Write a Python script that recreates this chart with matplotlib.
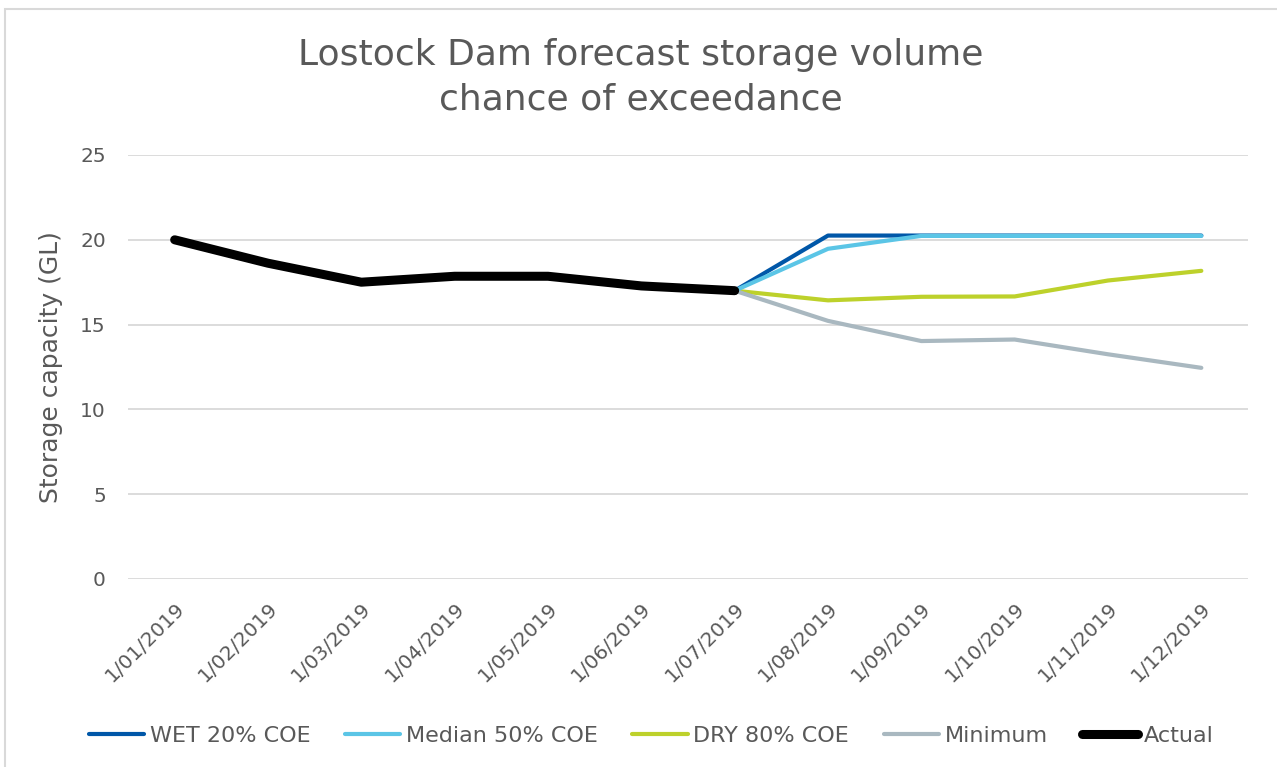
import matplotlib
matplotlib.use("Agg")
import matplotlib.pyplot as plt
from matplotlib.patches import Rectangle

months = ["1/01/2019", "1/02/2019", "1/03/2019", "1/04/2019", "1/05/2019", "1/06/2019",
          "1/07/2019", "1/08/2019", "1/09/2019", "1/10/2019", "1/11/2019", "1/12/2019"]

# Forecasts start at 1/07/2019 (index 6)
wet = [17.0, 20.25, 20.25, 20.25, 20.25, 20.25]
median = [17.0, 19.47, 20.23, 20.23, 20.23, 20.23]
dry = [17.0, 16.43, 16.64, 16.66, 17.6, 18.17]
minimum = [17.0, 15.22, 14.03, 14.12, 13.25, 12.45]
actual = [20.0, 18.62, 17.5, 17.85, 17.85, 17.28, 17.0]

yticks = [0, 5, 10, 15, 20, 25]

TXT = "#595959"
plt.rcParams['font.family'] = ['DejaVu Sans']

W, H = 1277, 767
fig = plt.figure(figsize=(W / 100, H / 100), dpi=100)
ax = fig.add_axes([128 / W, 1 - 579 / H, (1248 - 128) / W, (579 - 155) / H])

x_all = list(range(len(months)))
x_fc = x_all[6:]
x_act = x_all[:7]

ax.plot(x_fc, wet, color="#0057A8", lw=3.0, solid_capstyle="round", label="WET 20% COE", zorder=3)
ax.plot(x_fc, median, color="#5BC5E6", lw=3.0, solid_capstyle="round", label="Median 50% COE", zorder=4)
ax.plot(x_fc, dry, color="#BDD12B", lw=3.0, solid_capstyle="round", label="DRY 80% COE", zorder=3)
ax.plot(x_fc, minimum, color="#A9B8C0", lw=3.0, solid_capstyle="round", label="Minimum", zorder=3)
ax.plot(x_act, actual, color="black", lw=6.5, solid_capstyle="round", label="Actual", zorder=5)

ax.set_xlim(-0.5, len(months) - 0.5)
ax.set_ylim(0, 25)
ax.set_yticks(yticks)
ax.set_yticklabels([str(v) for v in yticks])
ax.set_xticks(x_all)
ax.set_xticklabels(months, rotation=45, ha="right", va="top", rotation_mode="anchor")
ax.tick_params(axis="both", length=0, colors=TXT, labelsize=14.5)
ax.tick_params(axis="y", pad=16)
ax.tick_params(axis="x", pad=14)
ax.grid(axis="y", color="#D9D9D9", lw=1.3)
ax.set_axisbelow(True)
for s in ax.spines.values():
    s.set_visible(False)

ax.set_ylabel("Storage capacity (GL)", color=TXT, fontsize=18, labelpad=12)

fig.text(641 / W, 1 - 77 / H, "Lostock Dam forecast storage volume\nchance of exceedance",
         ha="center", va="center", fontsize=26, color=TXT, linespacing=1.38)

handles, labels = ax.get_legend_handles_labels()
leg = fig.legend(handles, labels, loc="center", bbox_to_anchor=(651 / W, 1 - 736 / H),
                 ncol=5, frameon=False, fontsize=16, handlelength=2.5, handletextpad=0.25,
                 columnspacing=1.55, labelcolor=TXT)

fig.patches.append(Rectangle((5 / W, -0.05), 1.2, 1 - 9 / H + 0.05, transform=fig.transFigure,
                             fill=False, edgecolor="#D9D9D9", lw=1.5))

fig.savefig("out.png", dpi=100)
